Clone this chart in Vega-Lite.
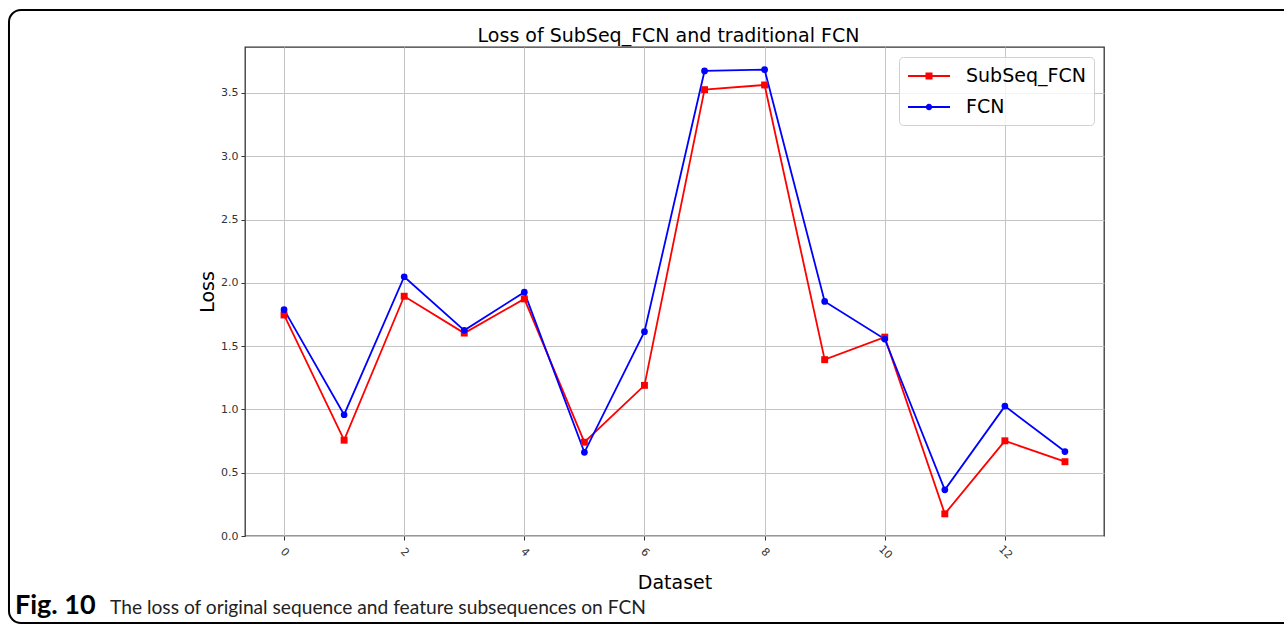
{
  "$schema": "https://vega.github.io/schema/vega-lite/v6.json",
  "width": 859,
  "height": 489,
  "autosize": {"type": "none"},
  "padding": {"left": 245, "top": 47, "right": 180, "bottom": 90},
  "background": "white",
  "title": {
    "text": "Loss of SubSeq_FCN and traditional FCN",
    "font": "DejaVu Sans",
    "fontSize": 19,
    "fontWeight": "normal",
    "color": "#000000",
    "anchor": "middle",
    "baseline": "alphabetic",
    "offset": -52,
    "dx": -6
  },
  "config": {
    "view": {"stroke": "#333333", "strokeWidth": 1.3},
    "axis": {
      "labelFont": "DejaVu Sans",
      "labelFontSize": 11,
      "labelColor": "#333333",
      "titleFont": "DejaVu Sans",
      "titleFontSize": 19,
      "titleFontWeight": "normal",
      "titleColor": "#000000",
      "tickColor": "#333333",
      "tickSize": 4,
      "domain": false,
      "gridColor": "#c4c4c4",
      "gridWidth": 1
    },
    "legend": {
      "orient": "top-right",
      "offset": 10,
      "labelFont": "DejaVu Sans",
      "labelFontSize": 19,
      "labelColor": "#000000",
      "symbolSize": 400,
      "symbolOpacity": 1,
      "labelOffset": 37,
      "rowPadding": 10,
      "padding": 8,
      "fillColor": "rgba(255,255,255,0.8)",
      "strokeColor": "#d0d0d0",
      "cornerRadius": 4
    }
  },
  "datasets": {
    "loss": [
      {"dataset": 0, "series": "SubSeq_FCN", "loss": 1.746},
      {"dataset": 1, "series": "SubSeq_FCN", "loss": 0.757},
      {"dataset": 2, "series": "SubSeq_FCN", "loss": 1.894},
      {"dataset": 3, "series": "SubSeq_FCN", "loss": 1.603},
      {"dataset": 4, "series": "SubSeq_FCN", "loss": 1.873},
      {"dataset": 5, "series": "SubSeq_FCN", "loss": 0.741},
      {"dataset": 6, "series": "SubSeq_FCN", "loss": 1.19},
      {"dataset": 7, "series": "SubSeq_FCN", "loss": 3.526},
      {"dataset": 8, "series": "SubSeq_FCN", "loss": 3.563},
      {"dataset": 9, "series": "SubSeq_FCN", "loss": 1.393},
      {"dataset": 10, "series": "SubSeq_FCN", "loss": 1.571},
      {"dataset": 11, "series": "SubSeq_FCN", "loss": 0.175},
      {"dataset": 12, "series": "SubSeq_FCN", "loss": 0.752},
      {"dataset": 13, "series": "SubSeq_FCN", "loss": 0.587},
      {"dataset": 0, "series": "FCN", "loss": 1.788},
      {"dataset": 1, "series": "FCN", "loss": 0.958},
      {"dataset": 2, "series": "FCN", "loss": 2.048},
      {"dataset": 3, "series": "FCN", "loss": 1.625},
      {"dataset": 4, "series": "FCN", "loss": 1.926},
      {"dataset": 5, "series": "FCN", "loss": 0.661},
      {"dataset": 6, "series": "FCN", "loss": 1.614},
      {"dataset": 7, "series": "FCN", "loss": 3.674},
      {"dataset": 8, "series": "FCN", "loss": 3.684},
      {"dataset": 9, "series": "FCN", "loss": 1.853},
      {"dataset": 10, "series": "FCN", "loss": 1.556},
      {"dataset": 11, "series": "FCN", "loss": 0.365},
      {"dataset": 12, "series": "FCN", "loss": 1.026},
      {"dataset": 13, "series": "FCN", "loss": 0.667}
    ]
  },
  "layer": [
    {
      "data": {"name": "loss"},
      "transform": [{"filter": "datum.series === 'SubSeq_FCN'"}],
      "mark": {"type": "line", "strokeWidth": 1.8, "color": "#ff0000"},
      "encoding": {
        "x": {
          "field": "dataset",
          "type": "quantitative",
          "scale": {"domain": [-0.65, 13.65], "nice": false, "zero": false},
          "axis": {
            "title": "Dataset",
            "values": [0, 2, 4, 6, 8, 10, 12],
            "format": "d",
            "labelAngle": 45,
            "labelAlign": "center",
            "labelBaseline": "middle",
            "labelPadding": 12,
            "titleBaseline": "alphabetic",
            "titleY": 52
          }
        },
        "y": {
          "field": "loss",
          "type": "quantitative",
          "scale": {"domain": [0, 3.863], "nice": false, "zero": false},
          "axis": {
            "title": "Loss",
            "values": [0, 0.5, 1, 1.5, 2, 2.5, 3, 3.5],
            "format": ".1f",
            "labelPadding": 3,
            "titleX": -32,
            "titleBaseline": "alphabetic"
          }
        }
      }
    },
    {
      "data": {"name": "loss"},
      "transform": [{"filter": "datum.series === 'FCN'"}],
      "mark": {"type": "line", "strokeWidth": 1.8, "color": "#0000ff"},
      "encoding": {
        "x": {"field": "dataset", "type": "quantitative"},
        "y": {"field": "loss", "type": "quantitative"}
      }
    },
    {
      "data": {"name": "loss"},
      "transform": [{"filter": "datum.series === 'SubSeq_FCN'"}],
      "mark": {"type": "point", "filled": true, "opacity": 1, "shape": "square", "size": 48, "color": "#ff0000"},
      "encoding": {
        "x": {"field": "dataset", "type": "quantitative"},
        "y": {"field": "loss", "type": "quantitative"}
      }
    },
    {
      "data": {"name": "loss"},
      "transform": [{"filter": "datum.series === 'FCN'"}],
      "mark": {"type": "point", "filled": true, "opacity": 1, "shape": "circle", "size": 45, "color": "#0000ff"},
      "encoding": {
        "x": {"field": "dataset", "type": "quantitative"},
        "y": {"field": "loss", "type": "quantitative"}
      }
    },
    {
      "data": {"name": "loss"},
      "mark": {"type": "point", "filled": true, "opacity": 0},
      "encoding": {
        "x": {"field": "dataset", "type": "quantitative"},
        "y": {"field": "loss", "type": "quantitative"},
        "color": {
          "field": "series",
          "type": "nominal",
          "scale": {"domain": ["SubSeq_FCN", "FCN"], "range": ["#ff0000", "#0000ff"]},
          "legend": {"title": null}
        },
        "shape": {
          "field": "series",
          "type": "nominal",
          "scale": {
            "domain": ["SubSeq_FCN", "FCN"],
            "range": [
              "M-1,-0.09H3.2V0.09H-1ZM0.75,-0.35H1.45V0.35H0.75Z",
              "M-1,-0.09H3.2V0.09H-1ZM1.42,0A0.32,0.32,0,1,1,0.78,0A0.32,0.32,0,1,1,1.42,0Z"
            ]
          },
          "legend": {"title": null}
        }
      }
    },
    {
      "data": {"values": [{"frame": "figure"}]},
      "mark": {"type": "rect", "fill": null, "stroke": "#000000", "strokeWidth": 2, "cornerRadius": 12, "clip": false},
      "encoding": {
        "x": {"datum": -4.579, "type": "quantitative"},
        "x2": {"datum": 16.91},
        "y": {"datum": 4.155, "type": "quantitative"},
        "y2": {"datum": -0.687}
      }
    },
    {
      "data": {"values": [{"caption": "Fig. 10"}]},
      "mark": {"type": "text", "font": "Lato", "fontSize": 27, "fontWeight": "bold", "align": "left", "baseline": "alphabetic", "color": "#000000", "clip": false},
      "encoding": {
        "x": {"datum": -4.48, "type": "quantitative"},
        "y": {"datum": -0.62, "type": "quantitative"},
        "text": {"field": "caption"}
      }
    },
    {
      "data": {"values": [{"caption": "The loss of original sequence and feature subsequences on FCN"}]},
      "mark": {"type": "text", "font": "Lato", "fontSize": 19.2, "fontWeight": "normal", "align": "left", "baseline": "alphabetic", "color": "#222222", "clip": false},
      "encoding": {
        "x": {"datum": -2.897, "type": "quantitative"},
        "y": {"datum": -0.62, "type": "quantitative"},
        "text": {"field": "caption"}
      }
    }
  ]
}
